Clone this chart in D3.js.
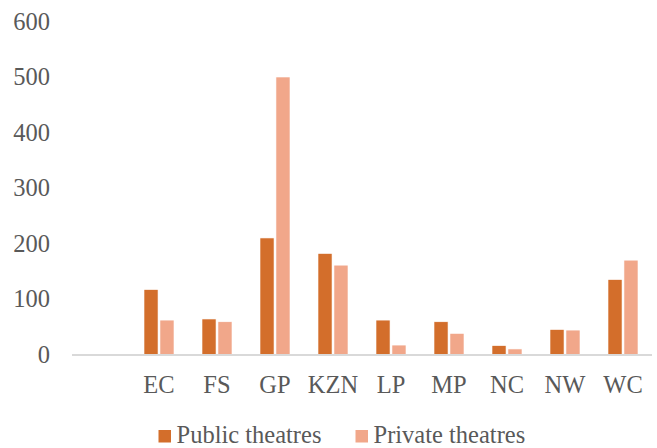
<!DOCTYPE html>
<html><head><meta charset="utf-8">
<script src="https://cdn.jsdelivr.net/npm/d3@7"></script>
<style>body{margin:0;background:#fff}svg{display:block}</style>
</head><body>
<svg id="c" width="657" height="448"></svg>
<script>
const categories = ["", "EC", "FS", "GP", "KZN", "LP", "MP", "NC", "NW", "WC"];
const publicTheatres = [null, 117, 64, 210, 182, 62, 59, 16, 45, 135];
const privateTheatres = [null, 62, 59, 500, 161, 17, 38, 10, 44, 170];
const seriesNames = ["Public theatres", "Private theatres"];
const colors = ["#D36E2B", "#F1A78A"];
const yTicks = [0, 100, 200, 300, 400, 500, 600];

const svg = d3.select("#c");
const font = "Liberation Serif, Times New Roman, serif";
const fs = 24.5;
const x = d3.scaleBand().domain(categories.map((c,i)=>i)).range([72, 652]).paddingInner(0).paddingOuter(0);
const y = d3.scaleLinear().domain([0, 600]).range([354.5, 21.5]);
const x1 = d3.scaleBand().domain([0,1]).range([0, 30]).paddingInner(0.12);

// y labels
svg.append("g").selectAll("text").data(yTicks).join("text")
  .attr("x", 50).attr("y", d=>y(d)+8)
  .attr("text-anchor","end").style("font-family",font).attr("font-size",fs).attr("fill","#595959")
  .text(d=>d);

const series = [publicTheatres, privateTheatres];
series.forEach((vals, s) => {
  svg.append("g").selectAll("rect").data(vals.map((v,i)=>({v,i})).filter(d=>d.v!=null)).join("rect")
    .attr("x", d => x(d.i) + x.bandwidth()/2 - 15 + x1(s))
    .attr("width", x1.bandwidth())
    .attr("y", d => y(d.v))
    .attr("height", d => y(0) - y(d.v))
    .attr("fill", colors[s])
    .attr("stroke","#fff").attr("stroke-width",0.6);
});

// axis line
svg.append("line").attr("x1",72).attr("x2",652).attr("y1",y(0)+0.5).attr("y2",y(0)+0.5)
  .attr("stroke","#d9d9d9").attr("stroke-width",2);

// category labels
svg.append("g").selectAll("text").data(categories.map((c,i)=>({c,i}))).join("text")
  .attr("x", d=>x(d.i)+x.bandwidth()/2).attr("y", 392.5)
  .attr("text-anchor","middle").style("font-family",font).attr("font-size",fs).attr("fill","#595959")
  .text(d=>d.c);

// legend
const legX = [158.5, 355.5];
seriesNames.forEach((n,s)=>{
  svg.append("rect").attr("x",legX[s]).attr("y",430).attr("width",12.5).attr("height",12.5).attr("fill",colors[s]);
  svg.append("text").attr("x",legX[s]+18).attr("y",442.5).style("font-family",font).attr("font-size",fs).attr("fill","#595959").text(n);
});
</script>
</body></html>
